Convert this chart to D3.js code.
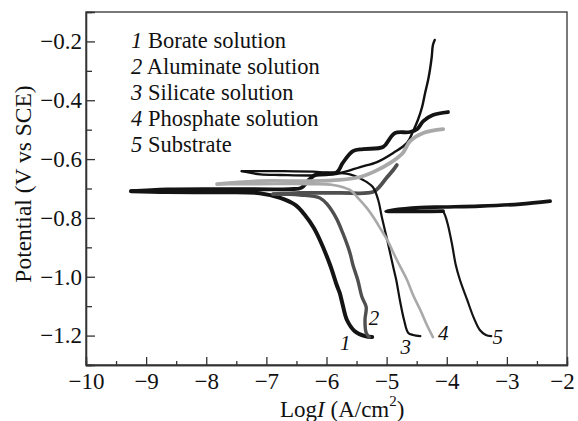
<!DOCTYPE html>
<html>
<head>
<meta charset="utf-8">
<script src="https://cdn.jsdelivr.net/npm/d3@7"></script>
<style>
	body { margin: 0; background: #fff; }
	svg { display: block; }
	svg text { font-family: "Liberation Serif", "Times New Roman", Times, serif !important; }
</style>
</head>
<body>
<script>
// axis ticks
var xTicks = [-10, -9, -8, -7, -6, -5, -4, -3, -2];
var xMinorTicks = [-9.5, -8.5, -7.5, -6.5, -5.5, -4.5, -3.5, -2.5];
var yTicks = [-1.2, -1.0, -0.8, -0.6, -0.4, -0.2];
var yMinorTicks = [-1.1, -0.9, -0.7, -0.5, -0.3];

var curveIds = ['1', '2', '3', '4', '5'];
var legendNames = ['Borate solution', 'Aluminate solution', 'Silicate solution', 'Phosphate solution', 'Substrate'];

// [log I, E]; cathodic = from -1.2 V up to the corrosion spike
var borateCathodic = [[-5.24,-1.205],[-5.36,-1.202],[-5.53,-1.185],[-5.66,-1.147],[-5.73,-1.096],[-5.78,-1.055],[-5.83,-1.028],[-5.94,-0.96],[-6.11,-0.875],[-6.22,-0.831],[-6.36,-0.79],[-6.52,-0.756],[-6.77,-0.732],[-7.11,-0.716],[-7.77,-0.713],[-8.65,-0.712],[-9.25,-0.709]];
var borateAnodic = [[-9.25,-0.709],[-8.65,-0.703],[-7.61,-0.702],[-6.61,-0.702],[-6.42,-0.698],[-6.3,-0.672],[-6.17,-0.652],[-5.83,-0.645],[-5.73,-0.613],[-5.56,-0.573],[-5.39,-0.566],[-5.06,-0.559],[-4.94,-0.528],[-4.86,-0.511],[-4.61,-0.508],[-4.49,-0.498],[-4.39,-0.471],[-4.23,-0.45],[-3.98,-0.44]];

var aluminateCathodic = [[-5.29,-1.205],[-5.34,-1.191],[-5.36,-1.147],[-5.34,-1.103],[-5.41,-1.069],[-5.48,-1.011],[-5.56,-0.96],[-5.61,-0.919],[-5.73,-0.851],[-5.84,-0.8],[-5.98,-0.756],[-6.11,-0.732],[-6.44,-0.722],[-6.89,-0.719]];
var aluminateAnodic = [[-6.89,-0.719],[-6.44,-0.715],[-5.78,-0.715],[-5.23,-0.712],[-5.11,-0.692],[-4.99,-0.661],[-4.89,-0.637],[-4.83,-0.62]];

var silicateCathodic = [[-4.44,-1.202],[-4.56,-1.198],[-4.64,-1.191],[-4.71,-1.147],[-4.78,-1.079],[-4.84,-1.011],[-4.89,-0.967],[-4.99,-0.875],[-5.08,-0.797],[-5.14,-0.739],[-5.23,-0.695],[-5.39,-0.671],[-5.61,-0.652],[-6.11,-0.644],[-6.77,-0.641],[-7.41,-0.641]];
var silicateAnodic = [[-7.41,-0.641],[-7.1,-0.652],[-6.77,-0.654],[-6.11,-0.655],[-5.78,-0.648],[-5.44,-0.627],[-5.16,-0.61],[-4.89,-0.579],[-4.66,-0.545],[-4.56,-0.505],[-4.48,-0.467],[-4.41,-0.423],[-4.36,-0.375],[-4.31,-0.331],[-4.28,-0.297],[-4.25,-0.253],[-4.23,-0.212],[-4.2,-0.195]];

var phosphateCathodic = [[-4.23,-1.205],[-4.33,-1.164],[-4.44,-1.113],[-4.56,-1.062],[-4.66,-1.011],[-4.83,-0.943],[-4.99,-0.875],[-5.11,-0.834],[-5.19,-0.807],[-5.33,-0.766],[-5.49,-0.729],[-5.61,-0.705],[-5.89,-0.688],[-6.27,-0.685],[-7.11,-0.685],[-7.82,-0.685]];
var phosphateAnodic = [[-7.82,-0.685],[-7.11,-0.675],[-6.27,-0.675],[-5.78,-0.671],[-5.44,-0.661],[-5.19,-0.641],[-4.94,-0.613],[-4.73,-0.579],[-4.61,-0.539],[-4.39,-0.511],[-4.06,-0.498]];

var substrateCathodic = [[-3.26,-1.202],[-3.35,-1.198],[-3.45,-1.181],[-3.55,-1.14],[-3.66,-1.079],[-3.78,-1.011],[-3.85,-0.96],[-3.91,-0.892],[-3.98,-0.824],[-4.03,-0.79],[-4.06,-0.777]];
var substrateAnodic = [[-4.06,-0.777],[-4.44,-0.778],[-5.01,-0.777],[-4.44,-0.765],[-4.06,-0.763],[-3.45,-0.76],[-2.78,-0.753],[-2.28,-0.743]];

// where the curve numbers sit
var labelPos = [[-5.69,-1.225],[-5.21,-1.14],[-4.68,-1.236],[-4.06,-1.191],[-3.15,-1.205]];

var W = 578, H = 421;
var margin = {left: 86, right: 11, top: 12, bottom: 56};

var svg = d3.select('body')
			.append('svg')
			.attr('width', W)
			.attr('height', H);

var x = d3.scaleLinear().domain([-10, -2]).range([margin.left, W - margin.right]);
var y = d3.scaleLinear().domain([-1.3, -0.1]).range([H - margin.bottom, margin.top]);

var fmt = function(d){ return d3.format('.1f')(d).replace('-', '\u2212'); };
var fmtX = function(d){ return String(d).replace('-', '\u2212'); };

var curves = [
	{parts: [borateCathodic, borateAnodic], color: '#141414', widths: [4, 3.8]},
	{parts: [aluminateCathodic, aluminateAnodic], color: '#4f4f4f', widths: [3.4, 3.8]},
	{parts: [silicateCathodic, silicateAnodic], color: '#111', widths: [2.2, 2.4]},
	{parts: [phosphateCathodic, phosphateAnodic], color: '#a9a9a9', widths: [2.6, 3.8]},
	{parts: [substrateCathodic, substrateAnodic], color: '#141414', widths: [2.2, 3.6]}
];

var line = d3.line()
			 .x(function(d){ return x(d[0]); })
			 .y(function(d){ return y(d[1]); })
			 .curve(d3.curveCatmullRom.alpha(0.5));

var g = svg.append('g');

for(let c of curves){
	for(let k = 0; k < c.parts.length; k++){
		g.append('path')
		 .attr('d', line(c.parts[k]))
		 .attr('fill', 'none')
		 .attr('stroke', c.color)
		 .attr('stroke-width', c.widths[k])
		 .attr('stroke-linecap', 'round')
		 .attr('stroke-linejoin', 'round');
	}
}

// frame
svg.append('rect')
   .attr('x', margin.left)
   .attr('y', margin.top)
   .attr('width', W - margin.right - margin.left)
   .attr('height', H - margin.bottom - margin.top)
   .attr('fill', 'none')
   .attr('stroke', '#333')
   .attr('stroke-width', 1.3);

// axes
svg.append('g')
   .attr('transform', 'translate(' + margin.left + ',0)')
   .call(d3.axisLeft(y).tickValues(yTicks).tickSize(-9).tickPadding(4).tickFormat(fmt));
svg.append('g')
   .attr('transform', 'translate(' + margin.left + ',0)')
   .call(d3.axisLeft(y).tickValues(yMinorTicks).tickSize(-6).tickFormat(''));

var xAxis = svg.append('g')
			   .attr('transform', 'translate(0,' + (H - margin.bottom) + ')')
			   .call(d3.axisBottom(x).tickValues(xTicks).tickSize(-8).tickPadding(8).tickFormat(fmtX));
svg.append('g')
   .attr('transform', 'translate(0,' + (H - margin.bottom) + ')')
   .call(d3.axisBottom(x).tickValues(xMinorTicks).tickSize(-4).tickFormat(''));

// last label sits against the right edge, as in the original
xAxis.selectAll('.tick text')
	 .filter(function(d){ return d === -2; })
	 .attr('dx', -5);

svg.selectAll('.domain').attr('stroke', '#333').attr('stroke-width', 1.3);
svg.selectAll('.tick line').attr('stroke', '#333').attr('stroke-width', 1.3);
svg.selectAll('.tick text')
   .attr('font-size', 23)
   .attr('fill', '#111');

// axis titles
svg.append('text')
   .attr('transform', 'translate(31,184) rotate(-90)')
   .attr('text-anchor', 'middle')
   .attr('font-size', 23.5)
   .attr('fill', '#111')
   .text('Potential (V vs SCE)');

var xt = svg.append('text')
			.attr('x', 280)
			.attr('y', 417)
			.attr('font-size', 23)
			.attr('fill', '#111');
xt.append('tspan').text('Log');
xt.append('tspan').attr('font-style', 'italic').text('I');
xt.append('tspan').text(' (A/cm');
xt.append('tspan').attr('font-size', 15).attr('dy', -11).text('2');
xt.append('tspan').attr('dy', 11).text(')');

// legend
for(let i = 0; i < legendNames.length; i++){
	var t = svg.append('text')
			   .attr('x', 131)
			   .attr('y', 48 + i * 26)
			   .attr('font-size', 22.5)
			   .attr('fill', '#111');
	t.append('tspan').attr('font-style', 'italic').text(curveIds[i]);
	t.append('tspan').text(' ' + legendNames[i]);
}

// curve numbers
svg.selectAll('text.num')
   .data(labelPos)
   .enter()
   .append('text')
   .attr('class', 'num')
   .attr('x', function(d){ return x(d[0]); })
   .attr('y', function(d){ return y(d[1]); })
   .attr('dy', '0.35em')
   .attr('text-anchor', 'middle')
   .attr('font-size', 21)
   .attr('font-style', 'italic')
   .attr('fill', '#111')
   .text(function(d, i){ return curveIds[i]; });
</script>
</body>
</html>
